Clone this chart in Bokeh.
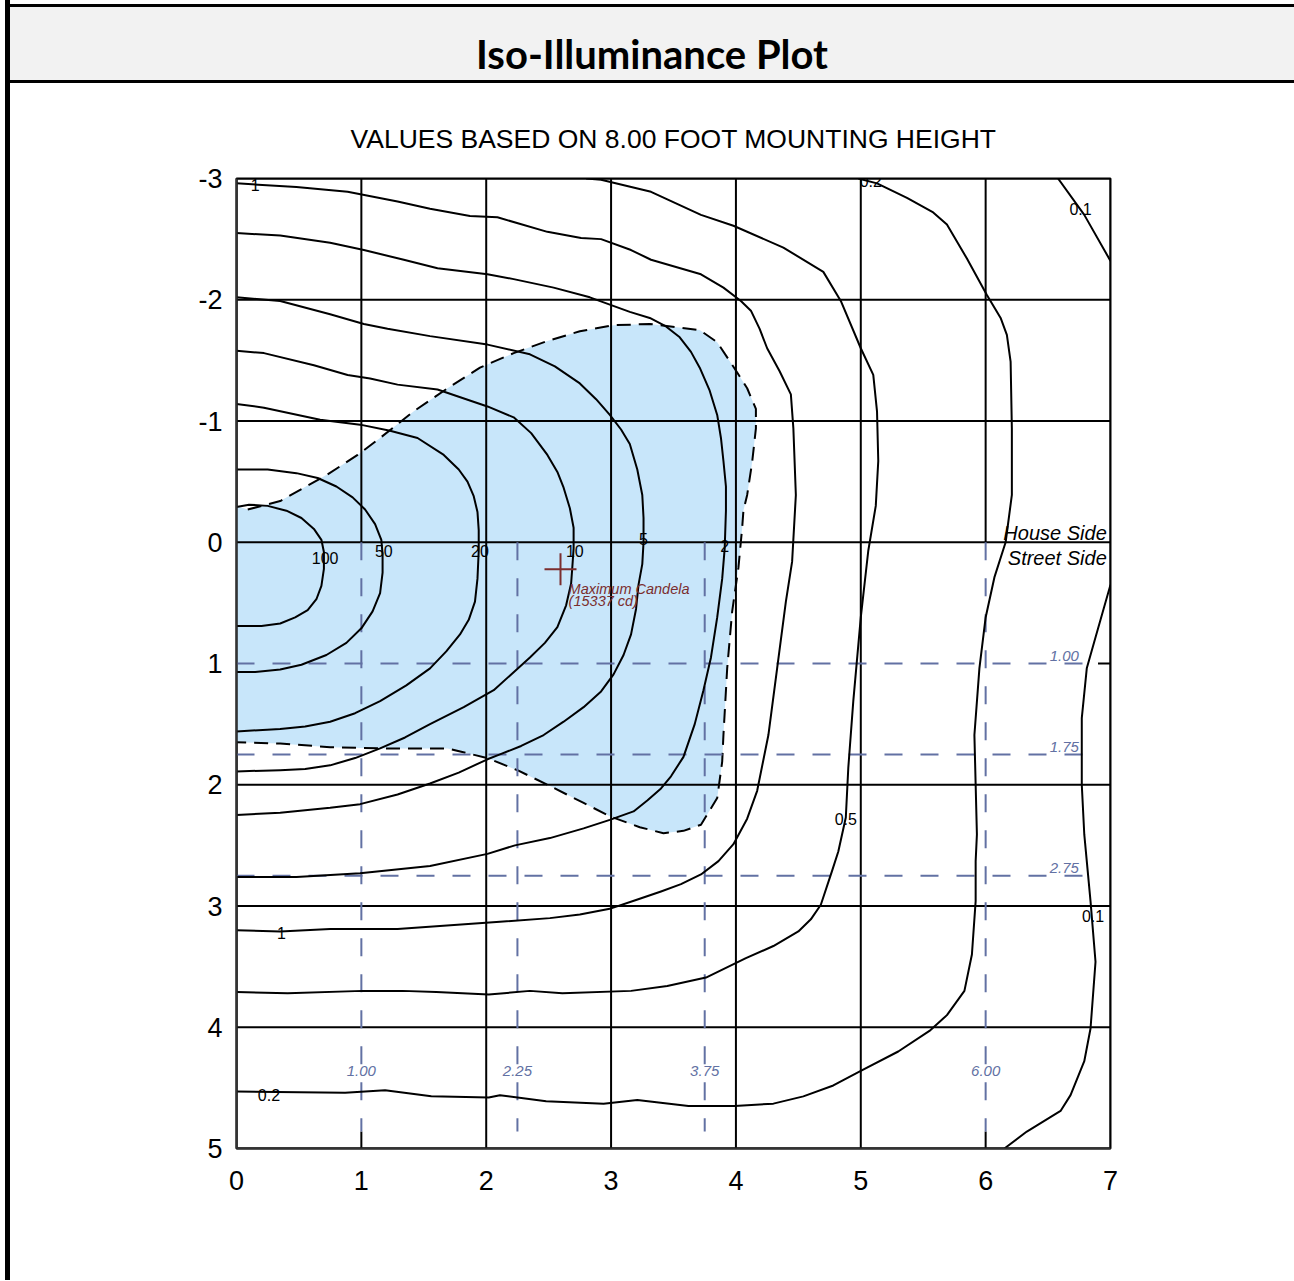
from bokeh.plotting import figure
from bokeh.models import Range1d, SingleIntervalTicker, Div, PrintfTickFormatter
from bokeh.layouts import column, row
from bokeh.embed import file_html
from bokeh.resources import INLINE
from bokeh.core.properties import value

# ---------------- data ----------------
x_ticks = [0, 1, 2, 3, 4, 5, 6, 7]
y_ticks = [-3, -2, -1, 0, 1, 2, 3, 4, 5]

c100_x = [0, 0.10, 0.25, 0.40, 0.52, 0.62, 0.68, 0.70, 0.70, 0.68, 0.64, 0.57, 0.47, 0.35, 0.20, 0]
c100_y = [-0.29, -0.31, -0.30, -0.26, -0.20, -0.11, -0.02, 0.08, 0.22, 0.36, 0.47, 0.56, 0.62, 0.67, 0.69, 0.69]

c50_x = [0, 0.25, 0.48, 0.65, 0.80, 0.93, 1.03, 1.11, 1.16, 1.17, 1.17, 1.15, 1.09, 1.00, 0.88, 0.72,
         0.52, 0.35, 0.15, 0]
c50_y = [-0.60, -0.60, -0.57, -0.53, -0.46, -0.37, -0.27, -0.15, -0.02, 0.10, 0.25, 0.42, 0.57, 0.71,
         0.83, 0.93, 1.01, 1.05, 1.07, 1.07]

c20_x = [0, 0.22, 0.67, 0.99, 1.23, 1.45, 1.66, 1.78, 1.85, 1.90, 1.93, 1.94, 1.94, 1.93, 1.91, 1.86,
         1.79, 1.68, 1.55, 1.36, 1.15, 0.95, 0.75, 0.55, 0.35, 0]
c20_y = [-1.14, -1.11, -1.01, -0.97, -0.92, -0.86, -0.72, -0.60, -0.50, -0.38, -0.25, -0.10, 0.07, 0.30,
         0.49, 0.64, 0.76, 0.90, 1.04, 1.18, 1.31, 1.41, 1.48, 1.52, 1.54, 1.56]

c10_x = [0, 0.22, 0.62, 0.89, 1.07, 1.29, 1.61, 2.01, 2.22, 2.36, 2.49, 2.57, 2.62, 2.67, 2.70, 2.70,
         2.69, 2.68, 2.64, 2.57, 2.47, 2.35, 2.20, 2.06, 1.82, 1.55, 1.35, 1.15, 0.95, 0.75, 0.55, 0.35, 0]
c10_y = [-1.58, -1.56, -1.46, -1.38, -1.35, -1.30, -1.26, -1.12, -1.03, -0.90, -0.72, -0.58, -0.45,
         -0.28, -0.12, 0.05, 0.20, 0.34, 0.52, 0.70, 0.83, 0.95, 1.09, 1.22, 1.36, 1.50, 1.61, 1.70,
         1.78, 1.84, 1.87, 1.88, 1.89]

c5_x = [0, 0.35, 0.75, 1.02, 1.21, 1.55, 2.01, 2.35, 2.55, 2.75, 2.88, 2.99, 3.08, 3.15, 3.21, 3.25,
        3.26, 3.26, 3.25, 3.22, 3.20, 3.16, 3.10, 3.02, 2.92, 2.78, 2.62, 2.46, 2.28, 2.11, 2.01, 1.78,
        1.55, 1.29, 0.99, 0.75, 0.35, 0]
c5_y = [-2.02, -1.99, -1.88, -1.80, -1.76, -1.70, -1.63, -1.55, -1.45, -1.31, -1.18, -1.05, -0.93,
        -0.81, -0.60, -0.39, -0.20, 0.0, 0.18, 0.35, 0.55, 0.76, 0.93, 1.09, 1.23, 1.36, 1.48, 1.59,
        1.68, 1.75, 1.79, 1.90, 1.99, 2.08, 2.16, 2.19, 2.23, 2.25]

c2_x = [0, 0.35, 0.75, 1.02, 1.34, 1.61, 2.01, 2.22, 2.54, 2.83, 3.15, 3.31, 3.44, 3.55, 3.64, 3.71,
        3.79, 3.85, 3.88, 3.90, 3.92, 3.92, 3.91, 3.89, 3.85, 3.80, 3.74, 3.67, 3.58, 3.48, 3.40, 3.29,
        3.18, 2.99, 2.78, 2.51, 2.23, 2.01, 1.55, 0.99, 0.48, 0]
c2_y = [-2.55, -2.53, -2.47, -2.41, -2.33, -2.26, -2.21, -2.17, -2.10, -2.02, -1.90, -1.85, -1.78,
        -1.69, -1.57, -1.44, -1.25, -1.05, -0.86, -0.67, -0.46, -0.26, 0.05, 0.30, 0.62, 0.95, 1.22,
        1.50, 1.77, 1.93, 2.03, 2.13, 2.22, 2.29, 2.36, 2.44, 2.50, 2.57, 2.67, 2.73, 2.76, 2.76]

c1_x = [0, 0.48, 0.89, 1.29, 1.55, 1.87, 2.09, 2.49, 2.76, 2.92, 3.16, 3.32, 3.72, 3.90, 4.04, 4.12,
        4.19, 4.25, 4.35, 4.44, 4.46, 4.48, 4.45, 4.40, 4.33, 4.26, 4.17, 4.09, 3.98, 3.86, 3.72, 3.56,
        3.40, 3.20, 3.00, 2.75, 2.51, 2.11, 1.29, 0.75, 0.35, 0]
c1_y = [-2.96, -2.93, -2.89, -2.81, -2.75, -2.69, -2.68, -2.56, -2.51, -2.50, -2.41, -2.33, -2.21,
        -2.10, -1.99, -1.91, -1.76, -1.60, -1.41, -1.22, -0.94, -0.39, 0.16, 0.49, 1.04, 1.59, 2.05,
        2.28, 2.49, 2.63, 2.74, 2.82, 2.88, 2.95, 3.02, 3.07, 3.10, 3.13, 3.19, 3.19, 3.21, 3.20]

c05_x = [2.80, 2.92, 3.32, 3.72, 3.98, 4.38, 4.70, 4.84, 5.00, 5.10, 5.13, 5.14, 5.12, 5.06, 5.00,
         4.94, 4.90, 4.88, 4.82, 4.77, 4.68, 4.60, 4.50, 4.30, 4.08, 3.76, 3.45, 3.16, 2.61, 2.35,
         2.02, 1.60, 1.33, 1.01, 0.41, 0]
c05_y = [-3.0, -2.99, -2.89, -2.70, -2.61, -2.43, -2.23, -1.99, -1.60, -1.38, -1.08, -0.67, -0.30,
         0.07, 0.62, 1.31, 1.86, 2.27, 2.55, 2.71, 2.99, 3.11, 3.21, 3.33, 3.43, 3.59, 3.66, 3.70,
         3.72, 3.70, 3.73, 3.71, 3.70, 3.70, 3.72, 3.71]

c02_x = [4.98, 5.13, 5.37, 5.58, 5.69, 5.85, 6.01, 6.12, 6.17, 6.20, 6.21, 6.21, 6.16, 6.07, 6.00,
         5.95, 5.91, 5.92, 5.93, 5.92, 5.92, 5.89, 5.83, 5.69, 5.55, 5.30, 5.00, 4.78, 4.54, 4.30,
         3.99, 3.62, 3.21, 2.94, 2.48, 2.11, 2.02, 1.56, 1.19, 0.87, 0]
c02_y = [-3.0, -2.96, -2.84, -2.72, -2.62, -2.34, -2.04, -1.85, -1.71, -1.49, -0.94, -0.39, 0.0, 0.29,
         0.62, 1.04, 1.59, 2.00, 2.41, 2.63, 2.96, 3.40, 3.70, 3.90, 4.03, 4.20, 4.36, 4.48, 4.57,
         4.63, 4.65, 4.65, 4.60, 4.63, 4.61, 4.56, 4.58, 4.57, 4.52, 4.54, 4.53]

c01a_x = [6.58, 6.79, 7.0]
c01a_y = [-3.0, -2.70, -2.32]
c01b_x = [7.0, 6.87, 6.81, 6.77, 6.77, 6.79, 6.84, 6.88, 6.84, 6.79, 6.68, 6.60, 6.33, 6.15]
c01b_y = [0.35, 0.82, 1.04, 1.45, 2.00, 2.41, 2.96, 3.46, 4.01, 4.28, 4.56, 4.69, 4.86, 5.0]

# region above threshold (blue area with dashed outline)
fill_x = [0, 0.09, 0.35, 0.73, 0.97, 1.15, 1.42, 1.69, 1.95, 2.22, 2.49, 2.75, 3.02, 3.31, 3.71, 3.85,
          4.01, 4.09, 4.16, 4.16, 4.13, 4.09, 4.06, 4.05, 4.02, 3.97, 3.93, 3.90, 3.89, 3.85, 3.72,
          3.58, 3.42, 3.23, 2.99, 2.78, 2.51, 2.25, 2.01, 1.69, 1.15, 0.75, 0.35, 0]
fill_y = [-0.30, -0.27, -0.34, -0.56, -0.72, -0.86, -1.08, -1.27, -1.44, -1.56, -1.66, -1.74, -1.79,
          -1.80, -1.75, -1.65, -1.40, -1.27, -1.10, -0.94, -0.66, -0.39, -0.26, -0.12, 0.21, 0.57,
          1.04, 1.59, 1.81, 2.11, 2.33, 2.38, 2.40, 2.35, 2.26, 2.15, 2.01, 1.88, 1.78, 1.70, 1.70,
          1.69, 1.66, 1.65]

# contour labels
lbl_text = ["100", "50", "20", "10", "5", "2", "1", "1", "0.5", "0.2", "0.2", "0.1", "0.1"]
lbl_x = [0.71, 1.18, 1.95, 2.71, 3.26, 3.91, 0.15, 0.36, 4.88, 5.08, 0.26, 6.76, 6.86]
lbl_y = [0.13, 0.07, 0.07, 0.07, -0.03, 0.03, -2.95, 3.22, 2.28, -2.98, 4.56, -2.75, 3.08]

# reference (dashed) lines
ref_h = [1.00, 1.75, 2.75]
ref_v = [1.00, 2.25, 3.75, 6.00]
ref_h_labels = ["1.00", "1.75", "2.75"]
ref_v_labels = ["1.00", "2.25", "3.75", "6.00"]
ref_h_end = 6.9     # horizontal reference lines run from x=0 to here
ref_v_end = 4.86    # vertical reference lines run from y=0 to here

# maximum candela
max_cd_x = [2.595]
max_cd_y = [0.223]
max_cd_text = ["Maximum  Candela", "(15337 cd)"]

title_text = "Iso-Illuminance Plot"
subtitle_text = "VALUES BASED ON 8.00 FOOT MOUNTING HEIGHT"

# ---------------- styling ----------------
ARIAL = value("Liberation Sans")
BLUE_LINE = "#6271a3"
FILL = "#c8e6fa"
DARK_RED = "#7b2e2e"

W = 1284
X0, X1 = x_ticks[0], x_ticks[-1]
Y0, Y1 = y_ticks[0], y_ticks[-1]

left_bar = Div(text="", width=5, height=1280, margin=(0, 0, 0, 5),
               styles={"background-color": "black"})

banner = Div(
    text=('<div style="width:%dpx;text-align:center;font-family:Lato;font-weight:bold;'
          'font-size:40px;line-height:40px;padding-top:27px;color:black;margin:0;">%s</div>'
          % (W, title_text)),
    width=W, height=79, margin=(4, 0, 0, 0),
    styles={"background-color": "#f2f2f2", "border-top": "3px solid black",
            "border-bottom": "3px solid black", "box-sizing": "border-box"})

# main plot
p = figure(width=W, height=1194, x_range=Range1d(X0, X1), y_range=Range1d(Y1, Y0),
           min_border_left=226, min_border_right=184, min_border_top=95, min_border_bottom=129,
           toolbar_location=None, output_backend="svg", margin=(0, 0, 0, 0))
p.background_fill_color = "white"
p.border_fill_color = "white"
p.outline_line_color = "black"
p.outline_line_width = 2
p.grid.visible = False

p.title.text = subtitle_text
p.title.align = "center"
p.title.text_font = "Liberation Sans"
p.title.text_font_style = "normal"
p.title.text_font_size = "26.5px"
p.title.text_color = "black"
p.title.standoff = 49

for ax in (p.xaxis[0], p.yaxis[0]):
    ax.ticker = SingleIntervalTicker(interval=1, num_minor_ticks=0)
    ax.formatter = PrintfTickFormatter(format="%d")
    ax.major_tick_out = 0
    ax.major_tick_in = 0
    ax.minor_tick_line_color = None
    ax.axis_line_color = "#333333"
    ax.axis_line_width = 2
    ax.major_label_text_font = "Liberation Sans"
    ax.major_label_text_font_size = "27px"
    ax.major_label_text_color = "black"
p.xaxis.major_label_standoff = 22
p.yaxis.major_label_standoff = 14

# blue area
p.patch(fill_x, fill_y, fill_color=FILL, line_color=None)

# grid lines (where a reference line runs along a grid line, the reference line replaces it)
gx0, gy0, gx1, gy1 = [], [], [], []
for gx in x_ticks:
    if gx in ref_v:
        gx0 += [gx, gx]; gx1 += [gx, gx]; gy0 += [Y0, ref_v_end]; gy1 += [0, Y1]
    else:
        gx0.append(gx); gx1.append(gx); gy0.append(Y0); gy1.append(Y1)
for gy in y_ticks:
    if gy in ref_h:
        gx0.append(ref_h_end); gx1.append(X1); gy0.append(gy); gy1.append(gy)
    else:
        gx0.append(X0); gx1.append(X1); gy0.append(gy); gy1.append(gy)
p.segment(x0=gx0, y0=gy0, x1=gx1, y1=gy1, line_color="black", line_width=2)

p.line(fill_x[1:], fill_y[1:], line_color="black", line_width=2, line_dash="14 8")

# reference dashed lines
p.segment(x0=[X0] * len(ref_h), y0=ref_h, x1=[ref_h_end] * len(ref_h), y1=ref_h,
          line_color=BLUE_LINE, line_width=2, line_dash="18 18")
p.segment(x0=ref_v, y0=[0] * len(ref_v), x1=ref_v, y1=[ref_v_end] * len(ref_v),
          line_color=BLUE_LINE, line_width=2, line_dash="18 18")
p.text(x=[6.63] * len(ref_h), y=[v - 0.06 for v in ref_h], text=ref_h_labels, text_font=ARIAL,
       text_font_style="italic", text_font_size="15px", text_color=BLUE_LINE,
       text_align="center", text_baseline="middle")
p.text(x=ref_v, y=[4.36] * len(ref_v), text=ref_v_labels, text_font=ARIAL,
       text_font_style="italic", text_font_size="15px", text_color=BLUE_LINE,
       text_align="center", text_baseline="middle")

# contours
xs = [c100_x, c50_x, c20_x, c10_x, c5_x, c2_x, c1_x, c05_x, c02_x, c01a_x, c01b_x]
ys = [c100_y, c50_y, c20_y, c10_y, c5_y, c2_y, c1_y, c05_y, c02_y, c01a_y, c01b_y]
p.multi_line(xs=xs, ys=ys, line_color="black", line_width=2, line_join="round")

p.text(x=lbl_x, y=lbl_y, text=lbl_text, text_font=ARIAL, text_font_size="16px", text_color="black",
       text_align="center", text_baseline="middle")

# maximum candela
p.scatter(x=max_cd_x, y=max_cd_y, marker="cross", size=32, line_color=DARK_RED, line_width=2)
p.text(x=[max_cd_x[0] + 0.065] * 2, y=[max_cd_y[0] + 0.165, max_cd_y[0] + 0.265], text=max_cd_text,
       text_font=ARIAL, text_font_style="italic", text_font_size="14.5px", text_color=DARK_RED,
       text_align="left", text_baseline="middle")

# house/street side
p.text(x=[6.97, 6.97], y=[-0.08, 0.13], text=["House Side", "Street Side"], text_font=ARIAL,
       text_font_style="italic", text_font_size="20px", text_color="black",
       text_align="right", text_baseline="middle")

layout = row(left_bar, column(banner, p, spacing=0), spacing=0)

open("out.html", "w").write(file_html(layout, INLINE))
